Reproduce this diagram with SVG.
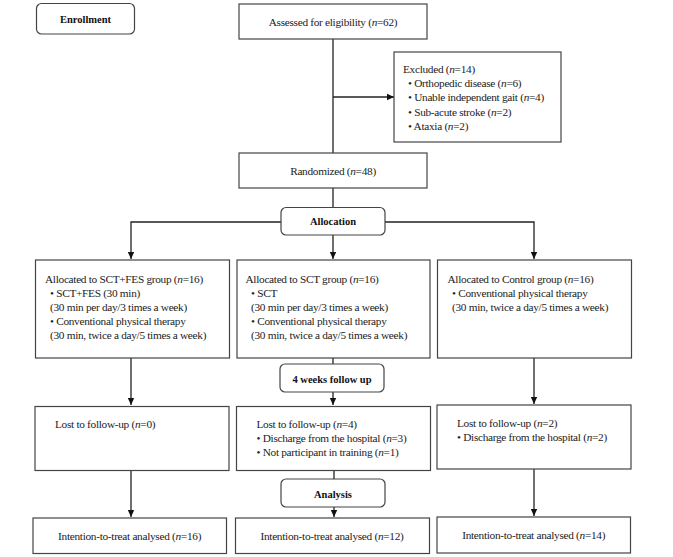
<svg xmlns="http://www.w3.org/2000/svg" width="673" height="557" viewBox="0 0 673 557">
<style>
.box{fill:#fff;stroke:#444;stroke-width:1.2}
.rbox{fill:#fff;stroke:#444;stroke-width:1.2}
.t{font-family:"Liberation Serif","Times New Roman",serif;font-size:11.3px;letter-spacing:-0.3px;fill:#222}
.b{font-family:"Liberation Serif","Times New Roman",serif;font-size:10.5px;font-weight:bold;fill:#111}
.c{text-anchor:middle}
.ln{fill:none;stroke:#222;stroke-width:1.3}
</style>
<defs>
<marker id="ah" markerWidth="8" markerHeight="8" refX="7" refY="4" orient="auto" markerUnits="userSpaceOnUse">
<path d="M0,0.8 L7,4 L0,7.2 Z" fill="#111"/>
</marker>
</defs>
<rect width="673" height="557" fill="#fff"/>
<g id="connectors">
<line class="ln" x1="333" y1="39" x2="333" y2="153"/>
<line class="ln" x1="333" y1="97" x2="394" y2="97" marker-end="url(#ah)"/>
<line class="ln" x1="333" y1="188" x2="333" y2="207"/>
<polyline class="ln" points="281,222 131,222 131,259" marker-end="url(#ah)"/>
<polyline class="ln" points="385,222 534,222 534,259" marker-end="url(#ah)"/>
<line class="ln" x1="333" y1="235" x2="333" y2="259" marker-end="url(#ah)"/>
<line class="ln" x1="131" y1="358" x2="131" y2="405" marker-end="url(#ah)"/>
<line class="ln" x1="333" y1="358" x2="333" y2="364"/>
<line class="ln" x1="333" y1="392" x2="333" y2="405" marker-end="url(#ah)"/>
<line class="ln" x1="534" y1="358" x2="534" y2="404" marker-end="url(#ah)"/>
<line class="ln" x1="131" y1="471" x2="131" y2="517" marker-end="url(#ah)"/>
<line class="ln" x1="334" y1="471" x2="334" y2="479"/>
<line class="ln" x1="334" y1="507" x2="334" y2="517" marker-end="url(#ah)"/>
<line class="ln" x1="534" y1="469" x2="534" y2="516" marker-end="url(#ah)"/>
</g>
<g id="enrollment">
<rect class="rbox" x="36.5" y="3.5" width="98" height="30.5" rx="5"/>
<text class="b c" x="85.5" y="22.5">Enrollment</text>
</g>
<g id="assessed">
<rect class="box" x="239" y="4" width="188" height="35"/>
<text class="t c" x="333" y="25.5">Assessed for eligibility (<tspan font-style="italic">n</tspan>=62)</text>
</g>
<g id="excluded">
<rect class="box" x="394" y="52" width="167" height="90"/>
<text class="t" x="403" y="73">Excluded (<tspan font-style="italic">n</tspan>=14)</text>
<text class="t" x="408" y="87">• Orthopedic disease (<tspan font-style="italic">n</tspan>=6)</text>
<text class="t" x="408" y="101.3">• Unable independent gait (<tspan font-style="italic">n</tspan>=4)</text>
<text class="t" x="408" y="115.5">• Sub-acute stroke (<tspan font-style="italic">n</tspan>=2)</text>
<text class="t" x="408" y="129.7">• Ataxia (<tspan font-style="italic">n</tspan>=2)</text>
</g>
<g id="randomized">
<rect class="box" x="239" y="153" width="188" height="35"/>
<text class="t c" x="333" y="174.5">Randomized (<tspan font-style="italic">n</tspan>=48)</text>
</g>
<g id="allocation">
<rect class="rbox" x="281" y="207.5" width="104" height="27.5" rx="5"/>
<text class="b c" x="333" y="225">Allocation</text>
</g>
<g id="group-sctfes">
<rect class="box" x="35.5" y="260" width="194" height="98"/>
<text class="t" x="45" y="282.5">Allocated to SCT+FES group (<tspan font-style="italic">n</tspan>=16)</text>
<text class="t" x="50" y="296.5">• SCT+FES (30 min)</text>
<text class="t" x="50" y="310.8">(30 min per day/3 times a week)</text>
<text class="t" x="50" y="325">• Conventional physical therapy</text>
<text class="t" x="50" y="339.2">(30 min, twice a day/5 times a week)</text>
</g>
<g id="group-sct">
<rect class="box" x="237" y="260" width="193" height="98"/>
<text class="t" x="245.5" y="282.5">Allocated to SCT group (<tspan font-style="italic">n</tspan>=16)</text>
<text class="t" x="251" y="296.5">• SCT</text>
<text class="t" x="251" y="310.8">(30 min per day/3 times a week)</text>
<text class="t" x="251" y="325">• Conventional physical therapy</text>
<text class="t" x="251" y="339.2">(30 min, twice a day/5 times a week)</text>
</g>
<g id="group-control">
<rect class="box" x="437.5" y="260" width="194" height="98"/>
<text class="t" x="447.5" y="282.5">Allocated to Control group (<tspan font-style="italic">n</tspan>=16)</text>
<text class="t" x="452" y="296.5">• Conventional physical therapy</text>
<text class="t" x="452" y="310.8">(30 min, twice a day/5 times a week)</text>
</g>
<g id="followup">
<rect class="rbox" x="280" y="364" width="104" height="28" rx="5"/>
<text class="b c" x="332" y="382.5">4 weeks follow up</text>
</g>
<g id="lost-sctfes">
<rect class="box" x="35" y="406.5" width="194" height="64"/>
<text class="t" x="55" y="427.5">Lost to follow-up (<tspan font-style="italic">n</tspan>=0)</text>
</g>
<g id="lost-sct">
<rect class="box" x="236.5" y="406.5" width="194" height="64"/>
<text class="t" x="256.5" y="427.5">Lost to follow-up (<tspan font-style="italic">n</tspan>=4)</text>
<text class="t" x="256.5" y="442">• Discharge from the hospital (<tspan font-style="italic">n</tspan>=3)</text>
<text class="t" x="256.5" y="456.3">• Not participant in training (<tspan font-style="italic">n</tspan>=1)</text>
</g>
<g id="lost-control">
<rect class="box" x="437" y="405" width="194" height="64"/>
<text class="t" x="457" y="426.5">Lost to follow-up (<tspan font-style="italic">n</tspan>=2)</text>
<text class="t" x="457" y="441">• Discharge from the hospital (<tspan font-style="italic">n</tspan>=2)</text>
</g>
<g id="analysis">
<rect class="rbox" x="281" y="479" width="104" height="28" rx="5"/>
<text class="b c" x="333" y="497.5">Analysis</text>
</g>
<g id="itt-sctfes">
<rect class="box" x="33" y="518" width="193.5" height="35.5"/>
<text class="t c" x="129.6" y="539.5">Intention-to-treat analysed (<tspan font-style="italic">n</tspan>=16)</text>
</g>
<g id="itt-sct">
<rect class="box" x="235.5" y="518" width="194" height="35.5"/>
<text class="t c" x="332" y="539.5">Intention-to-treat analysed (<tspan font-style="italic">n</tspan>=12)</text>
</g>
<g id="itt-control">
<rect class="box" x="437" y="517" width="193.5" height="36"/>
<text class="t c" x="533.7" y="539">Intention-to-treat analysed (<tspan font-style="italic">n</tspan>=14)</text>
</g>
</svg>
